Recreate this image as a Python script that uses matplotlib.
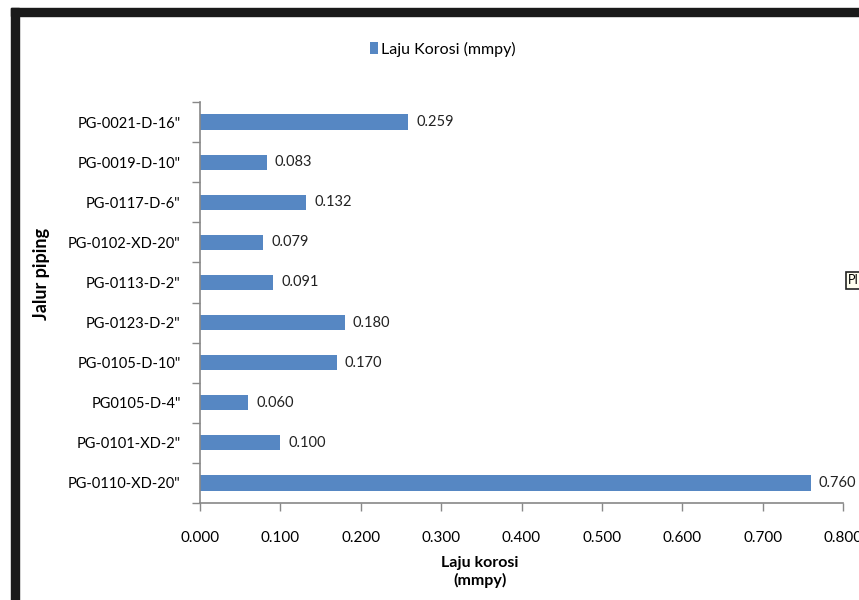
import numpy as np
import matplotlib.pyplot as plt
from matplotlib.patches import Rectangle

plt.rcParams['font.family'] = ['Lato', 'DejaVu Sans']

# data, top to bottom as in the chart
pipes = ['PG-0021-D-16"', 'PG-0019-D-10"', 'PG-0117-D-6"', 'PG-0102-XD-20"',
         'PG-0113-D-2"', 'PG-0123-D-2"', 'PG-0105-D-10"', 'PG0105-D-4"',
         'PG-0101-XD-2"', 'PG-0110-XD-20"']
laju = [0.259, 0.083, 0.132, 0.079, 0.091, 0.180, 0.170, 0.060, 0.100, 0.760]
xticks = np.arange(0, 0.81, 0.1)

fig = plt.figure(figsize=(8.59, 6.0), dpi=100)
ax = fig.add_axes([200/859, 1 - 503/600, 643/859, 401/600])

y = np.arange(len(pipes))[::-1]
bars = ax.barh(y, laju, height=0.38, color='#5687c3', label='Laju Korosi (mmpy)')
for yi, v in zip(y, laju):
    ax.text(v + 0.010, yi, '%.3f' % v, va='center', ha='left', fontsize=10.5, color='#222222')

ax.set_xlim(0, 0.8)
ax.set_ylim(-0.5, len(pipes) - 0.5)
ax.set_yticks(y)
ax.set_yticklabels(pipes, fontsize=10.5)
ax.set_yticks(np.arange(-0.5, len(pipes), 1), minor=True)
ax.tick_params(axis='y', which='major', length=0, pad=14)
ax.tick_params(axis='y', which='minor', length=6, color='#888888', width=1)
ax.set_xticks(xticks)
ax.set_xticklabels(['%.3f' % t for t in xticks], fontsize=11)
ax.tick_params(axis='x', length=6, color='#888888', width=1, pad=14)

for s in ['top', 'right']:
    ax.spines[s].set_visible(False)
for s in ['left', 'bottom']:
    ax.spines[s].set_color('#888888')
    ax.spines[s].set_linewidth(1.2)

fig.text(480/859, 1 - 572/600, 'Laju korosi\n(mmpy)', ha='center', va='center',
         fontsize=11.5, fontweight='bold', linespacing=1.3)
fig.text(42/859, 1 - 274/600, 'Jalur piping', rotation=90, ha='center', va='center',
         fontsize=13, fontweight='bold')

fig.legend(handles=[bars], loc='center', bbox_to_anchor=(443/859, 1 - 49/600),
           frameon=False, fontsize=11.5, handlelength=0.5, handleheight=0.8,
           handletextpad=0.2)

# scanned page frame
fig.patches.append(Rectangle((11/859, 1 - 16/600), 1, 8/600, transform=fig.transFigure,
                             color='#1a1a1a', zorder=5))
fig.patches.append(Rectangle((11/859, 0), 8/859, 1 - 8/600, transform=fig.transFigure,
                             color='#1a1a1a', zorder=5))

# cut-off text box on the right
fig.text(848/859, 1 - 280/600, 'PI', fontsize=9, ha='left', va='center',
         bbox=dict(boxstyle='square,pad=0.2', fc='#fffff0', ec='#222222', lw=1.2))

fig.savefig('out.png', dpi=100)
